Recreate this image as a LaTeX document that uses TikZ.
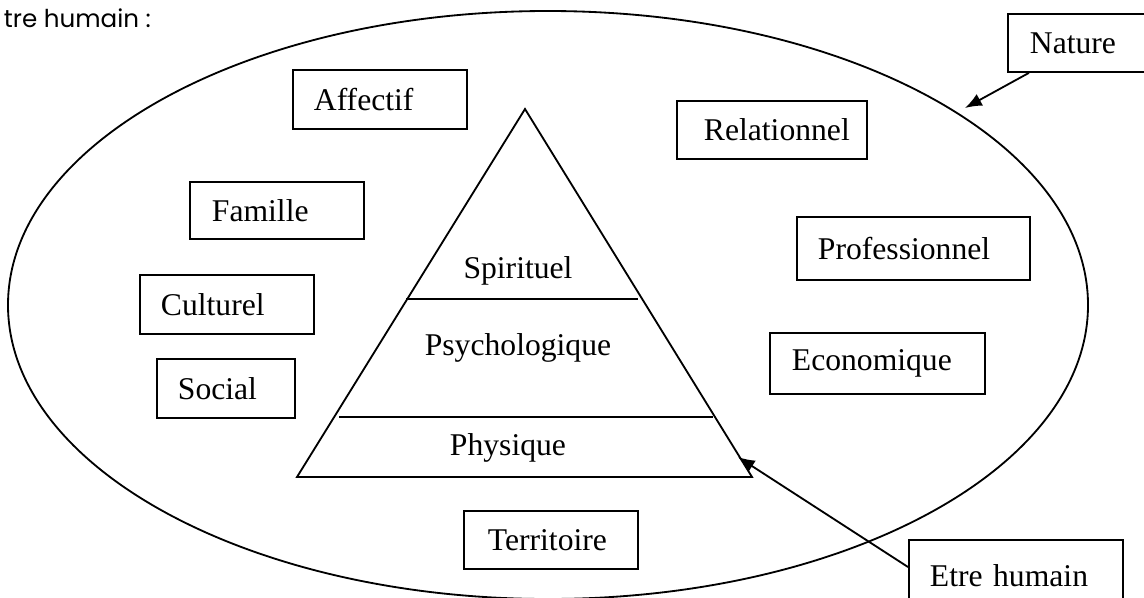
\documentclass[tikz,border=0pt]{standalone}
\usepackage{fontspec}
\setmainfont{Liberation Serif}
\newfontfamily\gothicfont{Poppins}
\usetikzlibrary{arrows.meta}
\usetikzlibrary{calc}
\newlength\unitpx
\setlength\unitpx{0.025cm}

\begin{document}
\begin{tikzpicture}[x=\unitpx,y=-\unitpx,line width=1.3pt,
    box/.style={draw,anchor=north west,align=left,inner ysep=0pt,inner xsep=21\unitpx,
      font=\fontsize{22.5}{27}\selectfont},
    layer/.style={anchor=base,font=\fontsize{22.5}{27}\selectfont}]
		\tikzset{>={Latex[length=0.42cm,width=0.33cm]}}
		\useasboundingbox (0,0) rectangle (1144,598);
		\clip (0,0) rectangle (1144,598);
		
		\node[anchor=base west,inner sep=0pt,font=\gothicfont\fontsize{17.5}{20}\selectfont] (titre) at (3,27) {tre humain :};
		
		% l'ellipse
		\draw (548,305) ellipse [x radius=540, y radius=294];
		
		% la pyramide
		\coordinate (apex) at (525,109);
		\coordinate (baseL) at (297,477);
		\coordinate (baseR) at (752,477);
		\draw (apex) -- (baseR) -- (baseL) -- cycle;
		\draw (406,299) -- (638,299);
		\draw (339,417) -- (713,417);
		\node[layer] (spirituel) at (518,278) {Spirituel};
		\node[layer] (psycho) at (518,355) {Psychologique};
		\node[layer] (physique) at (508,455) {Physique};
		
		% les cadres
		\node[box,text width=132\unitpx,minimum height=59\unitpx] (affectif) at (292,69) {Affectif};
		\node[box,text width=130\unitpx,minimum height=57\unitpx,inner xsep=22\unitpx] (famille) at (189,181) {Famille};
		\node[box,text width=132\unitpx,minimum height=59\unitpx] (culturel) at (139,274) {Culturel};
		\node[box,text width=96\unitpx,minimum height=59\unitpx] (social) at (156,358) {Social};
		\node[box,text width=136\unitpx,minimum height=58\unitpx,inner xsep=27\unitpx] (relationnel) at (676,100) {Relationnel};
		\node[box,text width=191\unitpx,minimum height=63\unitpx] (professionnel) at (796,216) {Professionnel};
		\node[box,text width=171\unitpx,minimum height=61\unitpx,inner xsep=22\unitpx] (economique) at (769,332) {Economique};
		\node[box,text width=126\unitpx,minimum height=58\unitpx,inner xsep=24\unitpx] (territoire) at (463,510) {Territoire};
		\node[box,text width=150\unitpx,minimum height=58\unitpx,inner xsep=22\unitpx] (nature) at (1007,13) {Nature};
		\node[box,text width=172\unitpx,minimum height=72\unitpx] (etre) at (908,539) {Etre humain};
		
		% les fleches
		\coordinate (natureTip) at (965,108);
		\coordinate (etreTip) at (738,457);
		\draw[->] ([xshift=22\unitpx]nature.south west) -- (natureTip);
		\draw[->] ([yshift=-28\unitpx]etre.north west) -- (etreTip);
		
\end{tikzpicture}
\end{document}
